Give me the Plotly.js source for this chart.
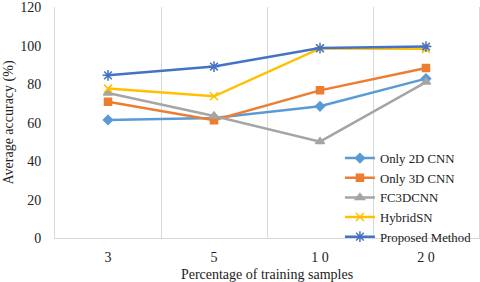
<!DOCTYPE html>
<html><head><meta charset="utf-8">
<script src="https://cdn.plot.ly/plotly-3.0.1.min.js"></script>
<style>body{margin:0;padding:0;background:#fff}#c{width:480px;height:282px}</style>
</head><body><div id="c"></div>
<script>
var categories = ["3", "5", "10", "20"];
var tickLabels = ["3", "5", "1 0", "2 0"];
var only2D = [61.5, 62.5, 68.6, 83.0];
var only3D = [71.0, 61.3, 76.9, 88.5];
var fc3dcnn = [75.5, 63.5, 50.2, 81.2];
var hybridSN = [77.8, 73.8, 98.7, 98.5];
var proposed = [84.7, 89.3, 98.9, 99.7];
var seriesNames = ["Only 2D CNN", "Only 3D CNN", "FC3DCNN", "HybridSN", "Proposed Method"];

var idx = categories.map(function(_, i){ return i; });
var colors = ["#5B9BD5", "#ED7D31", "#A5A5A5", "#FFC000", "#4472C4"];
var symbols = ["diamond", "square", "triangle-up", "x-thin-open", "asterisk-open"];
var sizes = [7, 7, 8, 8, 9];
var data = [only2D, only3D, fc3dcnn, hybridSN, proposed].map(function(v, k){
  return {x: idx, y: v, name: seriesNames[k], type: "scatter", mode: "lines+markers",
    line: {color: colors[k], width: 2.5},
    marker: {symbol: symbols[k], size: sizes[k], color: colors[k], line: {color: colors[k], width: 1.5}}};
});
var fam = "Liberation Serif";
var font = {family: fam, color: "#222", size: 14};
var layout = {
  width: 480, height: 282,
  margin: {l: 55, r: 1, t: 7, b: 44},
  paper_bgcolor: "#fff", plot_bgcolor: "#fff",
  font: font,
  showlegend: true,
  legend: {x: 0.672, y: 0.41, xanchor: "left", yanchor: "top", bgcolor: "rgba(0,0,0,0)",
    font: {family: fam, size: 12.8, color: "#222"}, tracegroupgap: 0, itemwidth: 30},
  xaxis: {range: [-0.5, 3.5], tickvals: idx, ticktext: tickLabels, showgrid: false, zeroline: false,
    showline: true, linecolor: "#D9D9D9", linewidth: 1, ticks: "", ticklabelstandoff: 6,
    tickfont: {family: fam, size: 14, color: "#222"},
    minor: {tick0: 0.5, dtick: 1, showgrid: true, gridcolor: "#D9D9D9", gridwidth: 1},
    title: {text: "Percentage of training samples", font: font, standoff: 5}},
  yaxis: {range: [0, 120.3], tickvals: [0, 20, 40, 60, 80, 100, 120], showgrid: false, zeroline: false,
    showline: true, mirror: true, linecolor: "#D9D9D9", linewidth: 1, ticks: "", ticklabelstandoff: 10,
    tickfont: {family: fam, size: 14, color: "#222"},
    title: {text: "Average accuracy (%)", font: font, standoff: 3}}
};
Plotly.newPlot("c", data, layout, {displayModeBar: false, staticPlot: true});
</script></body></html>
